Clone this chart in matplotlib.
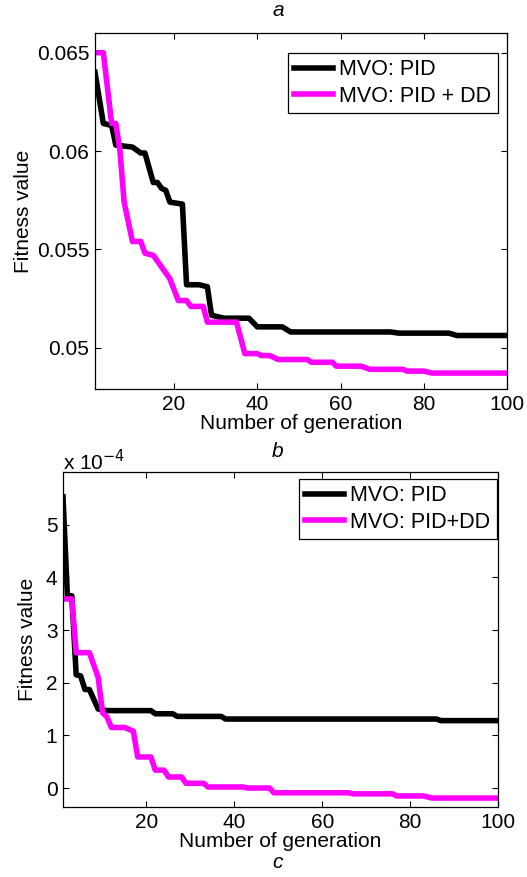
import matplotlib
matplotlib.use("Agg")
import matplotlib.pyplot as plt

plt.rcParams["font.family"] = ["Liberation Sans", "DejaVu Sans"]

# --- panel a: fitness values (raw) ---
gen_a_pid = [1, 3, 5, 6, 10, 12, 13, 15, 16, 17, 18, 19, 22, 23, 26, 28, 29,
             32, 38, 40, 46, 48, 72, 74, 86, 88, 100]
fit_a_pid = [0.0640, 0.0614, 0.0613, 0.0603, 0.0602, 0.0599, 0.0599, 0.0584,
             0.0584, 0.0581, 0.0580, 0.0574, 0.0573, 0.0532, 0.0532, 0.0531,
             0.05165, 0.0515, 0.0515, 0.05106, 0.05106, 0.0508, 0.0508,
             0.05074, 0.05074, 0.05062, 0.05062]

gen_a_dd = [1, 3, 5, 6, 7, 8, 10, 12, 13, 15, 17, 19, 21, 23, 24, 27, 28, 35,
            37, 40, 41, 43, 45, 52, 53, 58, 59, 65, 67, 75, 76, 80, 82, 100]
fit_a_dd = [0.0650, 0.0650, 0.0614, 0.0614, 0.0600, 0.0574, 0.0554, 0.0554,
            0.0548, 0.0547, 0.0541, 0.0535, 0.0524, 0.0524, 0.0521, 0.0521,
            0.0513, 0.0513, 0.0497, 0.0497, 0.0496, 0.0496, 0.0494, 0.0494,
            0.04926, 0.04926, 0.04906, 0.04906, 0.0489, 0.0489, 0.04881,
            0.04881, 0.04871, 0.04871]

# --- panel b: fitness values in units of 1e-4 ---
gen_b_pid = [1, 2, 3, 4, 5, 6, 7, 9, 11, 21, 22, 26, 27, 37, 38, 86, 87, 100]
fit_b_pid = [5.53, 3.65, 3.65, 2.15, 2.13, 1.87, 1.87, 1.50, 1.47, 1.47, 1.41,
             1.41, 1.36, 1.36, 1.31, 1.31, 1.28, 1.28]

gen_b_dd = [1, 3, 4, 7, 9, 10, 11, 12, 15, 17, 18, 21, 22, 24, 25, 28, 29, 33,
            34, 42, 43, 48, 49, 66, 67, 76, 77, 83, 85, 100]
fit_b_dd = [3.59, 3.59, 2.57, 2.57, 2.10, 1.43, 1.35, 1.15, 1.15, 1.08, 0.59,
            0.59, 0.34, 0.34, 0.21, 0.21, 0.09, 0.09, 0.02, 0.02, 0.0, 0.0,
            -0.09, -0.09, -0.11, -0.11, -0.15, -0.15, -0.19, -0.19]

x_ticks = [20, 40, 60, 80, 100]
a_yticks = [0.05, 0.055, 0.06, 0.065]
a_ylabels = ["0.05", "0.055", "0.06", "0.065"]
b_yticks = [0, 1, 2, 3, 4, 5]

W, H = 527, 877
FS = 15


def style_axes(ax):
    ax.tick_params(direction="in", length=4, width=0.8, top=True, right=True,
                   labelsize=FS, pad=4)
    for s in ax.spines.values():
        s.set_linewidth(0.9)
        s.set_color("black")
    ax.set_xlim(1, 100)
    ax.set_xticks(x_ticks)


def add_legend(ax, right_px, top_px):
    leg = ax.legend(loc="upper right",
                    bbox_to_anchor=(right_px / W, 1 - top_px / H),
                    bbox_transform=fig.transFigure, fontsize=15.5,
                    fancybox=False, edgecolor="black", framealpha=1,
                    handlelength=1.8, borderaxespad=0, labelspacing=0.25,
                    handletextpad=0.3, borderpad=0.3)
    leg.get_frame().set_linewidth(0.9)


fig = plt.figure(figsize=(W / 100, H / 100), dpi=100)

# panel a
ax1 = fig.add_axes([95 / W, 1 - 389 / H, 412 / W, 356 / H])
ax1.plot(gen_a_pid, fit_a_pid, color="black", lw=4, label="MVO: PID")
ax1.plot(gen_a_dd, fit_a_dd, color="#ff00ff", lw=4, label="MVO: PID + DD")
style_axes(ax1)
ax1.set_ylim(0.0479, 0.0660)
ax1.set_yticks(a_yticks)
ax1.set_yticklabels(a_ylabels)
ax1.set_xlabel("Number of generation", fontsize=FS, labelpad=0)
ax1.set_ylabel("Fitness value", fontsize=FS, labelpad=3)
add_legend(ax1, 498, 53)

# panel b
ax2 = fig.add_axes([63 / W, 1 - 807 / H, 435 / W, 335 / H])
ax2.plot(gen_b_pid, fit_b_pid, color="black", lw=4, label="MVO: PID")
ax2.plot(gen_b_dd, fit_b_dd, color="#ff00ff", lw=4, label="MVO: PID+DD")
style_axes(ax2)
ax2.set_ylim(-0.36, 6.0)
ax2.set_yticks(b_yticks)
ax2.set_xlabel("Number of generation", fontsize=FS, labelpad=0)
ax2.set_ylabel("Fitness value", fontsize=FS, labelpad=6)
add_legend(ax2, 497, 479)
fig.text(63 / W, 1 - 462 / H, r"x 10$^{-4}$", fontsize=FS, ha="left",
         va="center")

# panel captions
fig.text(278 / W, 1 - 11 / H, "a", fontsize=FS, style="italic",
         ha="center", va="center")
fig.text(278 / W, 1 - 452 / H, "b", fontsize=FS, style="italic",
         ha="center", va="center")
fig.text(278 / W, 1 - 863 / H, "c", fontsize=FS, style="italic",
         ha="center", va="center")

fig.savefig("out.png", dpi=100)
